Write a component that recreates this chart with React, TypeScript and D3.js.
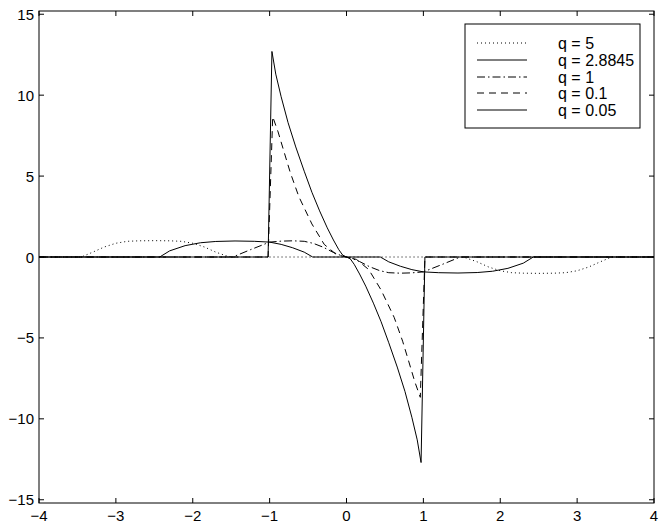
import React from "react";
import * as d3 from "d3";

// ---- data ----
const xTicks = [-4, -3, -2, -1, 0, 1, 2, 3, 4];
const yTicks = [-15, -10, -5, 0, 5, 10, 15];
const labels = ["q = 5", "q = 2.8845", "q = 1", "q = 0.1", "q = 0.05"];

const q5X = [-4, -3.45, -3.3, -3.15, -3.0, -2.85, -2.7, -2.5, -2.3, -2.15, -2.0, -1.85, -1.7, -1.55, -1.48, 1.48, 1.55, 1.7, 1.85, 2.0, 2.15, 2.3, 2.5, 2.7, 2.85, 3.0, 3.15, 3.3, 3.45, 4];
const q5Y = [0, 0, 0.3, 0.62, 0.85, 0.97, 1.0, 1.01, 1.0, 0.97, 0.85, 0.62, 0.3, 0.05, 0, 0, -0.05, -0.3, -0.62, -0.85, -0.97, -1.0, -1.01, -1.0, -0.97, -0.85, -0.62, -0.3, 0, 0];

const q28X = [-4, -2.43, -2.3, -2.1, -1.9, -1.7, -1.45, -1.2, -1.0, -0.85, -0.7, -0.55, -0.44, 0.44, 0.55, 0.7, 0.85, 1.0, 1.2, 1.45, 1.7, 1.9, 2.1, 2.3, 2.43, 4];
const q28Y = [0, 0, 0.38, 0.7, 0.88, 0.96, 0.99, 0.97, 0.92, 0.78, 0.57, 0.3, 0, 0, -0.3, -0.57, -0.78, -0.92, -0.97, -0.99, -0.96, -0.88, -0.7, -0.38, 0, 0];

const q1X = [-4, -1.48, -1.25, -1.0, -0.85, -0.7, -0.55, -0.43, -0.3, -0.17, -0.05, 0, 0.05, 0.17, 0.3, 0.43, 0.55, 0.7, 0.85, 1.0, 1.25, 1.48, 4];
const q1Y = [0, 0, 0.45, 0.92, 0.98, 1.0, 0.97, 0.84, 0.6, 0.28, 0.05, 0, -0.05, -0.28, -0.6, -0.84, -0.97, -1.0, -0.98, -0.92, -0.45, 0, 0];

const q01X = [-4, -1.02, -0.96, -0.89, -0.8, -0.73, -0.62, -0.45, -0.29, -0.13, 0, 0.13, 0.29, 0.45, 0.62, 0.73, 0.8, 0.89, 0.96, 1.02, 4];
const q01Y = [0, 0, 8.67, 7.73, 6.3, 5.2, 3.73, 2.04, 0.78, 0.15, 0, -0.15, -0.78, -2.04, -3.73, -5.2, -6.3, -7.73, -8.67, 0, 0];

const q005X = [-4, -1.02, -0.97, -0.92, -0.85, -0.76, -0.66, -0.55, -0.45, -0.35, -0.25, -0.17, -0.1, -0.05, 0, 0.05, 0.1, 0.17, 0.25, 0.35, 0.45, 0.55, 0.66, 0.76, 0.85, 0.92, 0.97, 1.02, 4];
const q005Y = [0, 0, 12.7, 11.3, 9.9, 8.3, 6.8, 5.3, 4.0, 2.85, 1.8, 1.05, 0.45, 0.12, 0, -0.12, -0.45, -1.05, -1.8, -2.85, -4.0, -5.3, -6.8, -8.3, -9.9, -11.3, -12.7, 0, 0];

const seriesX = [q5X, q28X, q1X, q01X, q005X];
const seriesY = [q5Y, q28Y, q1Y, q01Y, q005Y];
const dashes = ["1 3", "", "8 3 1.5 3", "7 5", ""];

const W = 664, H = 527;
const L = 39, R = 654, T = 11, B = 503;
const FONT = "'Liberation Sans', Arial, Helvetica, sans-serif";

export default function App() {
  const x = d3.scaleLinear().domain([-4, 4]).range([L, R]);
  const y = d3.scaleLinear().domain([-15.2, 15.2]).range([B, T]);
  const line = d3.line<[number, number]>().x(d => x(d[0])).y(d => y(d[1]));
  const tl = 5;
  const fmt = (v: number) => (v < 0 ? "\u2212" + Math.abs(v) : String(v));

  const legX = 465, legY = 24, legW = 175, legH = 104;
  const rowY = [43, 60, 77, 93, 110];

  return (
    <svg width={W} height={H} style={{ position: "absolute", left: 0, top: 0, background: "#fff" }} fontFamily={FONT}>
      <rect x={0} y={0} width={W} height={H} fill="#fff" />
      {seriesX.map((xs, i) => (
        <path key={i} d={line(xs.map((v, j) => [v, seriesY[i][j]]) as [number, number][]) || ""}
          fill="none" stroke="#000" strokeWidth={1} strokeDasharray={dashes[i] || undefined} />
      ))}
      <rect x={L} y={T} width={R - L} height={B - T} fill="none" stroke="#000" strokeWidth={1} />
      {xTicks.map(t => (
        <g key={"x" + t}>
          <line x1={x(t)} x2={x(t)} y1={B} y2={B - tl} stroke="#000" />
          <line x1={x(t)} x2={x(t)} y1={T} y2={T + tl} stroke="#000" />
          <text x={x(t)} y={B + 18} fontSize={15} textAnchor="middle">{fmt(t)}</text>
        </g>
      ))}
      {yTicks.map(t => (
        <g key={"y" + t}>
          <line x1={L} x2={L + tl} y1={y(t)} y2={y(t)} stroke="#000" />
          <line x1={R} x2={R - tl} y1={y(t)} y2={y(t)} stroke="#000" />
          <text x={L - 5} y={y(t) + 5.5} fontSize={15} textAnchor="end">{fmt(t)}</text>
        </g>
      ))}
      <rect x={legX} y={legY} width={legW} height={legH} fill="#fff" stroke="#000" strokeWidth={1} />
      {labels.map((lab, i) => (
        <g key={lab}>
          <line x1={477} x2={527} y1={rowY[i]} y2={rowY[i]} stroke="#000" strokeDasharray={dashes[i] || undefined} />
          <text x={558} y={rowY[i] + 5.5} fontSize={16}>{lab}</text>
        </g>
      ))}
    </svg>
  );
}
